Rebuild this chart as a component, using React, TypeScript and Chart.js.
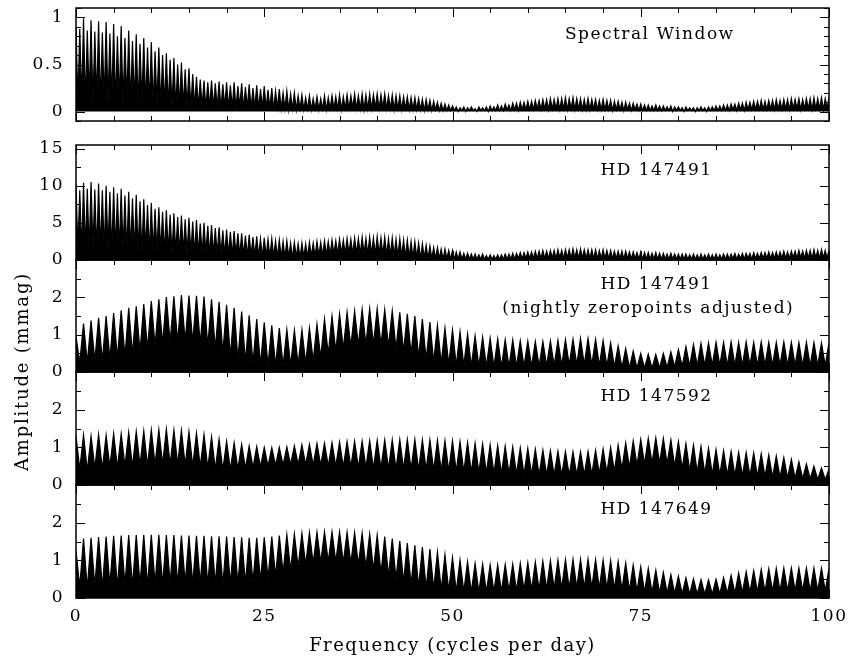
import React, { useEffect, useRef } from "react";
import { Chart, registerables } from "chart.js";

Chart.register(...registerables);

const FONT_FAMILY = "'DejaVu Serif', 'Liberation Serif', serif";

// ---- frequency axis ----
const FREQ_MIN = 0;
const FREQ_MAX = 100;
const FREQ_TICKS = [0, 25, 50, 75, 100];
const FREQ_MINOR = 5;
const X_TITLE = "Frequency (cycles per day)";
const Y_TITLE = "Amplitude (mmag)";

// spacing of successive alias peaks (c/d)
const WINDOW_PEAK_SPACING = 0.5;
const RAW_PEAK_SPACING = 0.5;
const STAR_PEAK_SPACING = 1;

// ---- Spectral window: peak heights (every 0.5 c/d) ----
const windowPeaks = [
  0.90, 0.88, 0.99, 0.86, 0.97, 0.85, 0.96,
  0.84, 0.95, 0.83, 0.93, 0.80,
  0.91, 0.78, 0.86, 0.75, 0.82,
  0.72, 0.78, 0.68, 0.74, 0.64,
  0.68, 0.60, 0.62, 0.55, 0.57,
  0.50, 0.52, 0.45, 0.46, 0.40,
  0.37, 0.34, 0.33, 0.31, 0.33,
  0.30, 0.32, 0.29, 0.31, 0.28,
  0.31, 0.27, 0.30, 0.26, 0.29,
  0.25, 0.28, 0.24, 0.27, 0.23,
  0.25, 0.22, 0.24, 0.20, 0.22,
  0.19, 0.20, 0.17, 0.18, 0.15,
  0.17, 0.14, 0.16, 0.14, 0.17,
  0.15, 0.17, 0.16, 0.18, 0.16,
  0.18, 0.17, 0.19, 0.17, 0.19,
  0.18, 0.19, 0.18, 0.19, 0.18,
  0.19, 0.17, 0.18, 0.17, 0.17,
  0.16, 0.16, 0.15, 0.15, 0.14,
  0.13, 0.13, 0.12, 0.11, 0.10,
  0.09, 0.08, 0.07, 0.06, 0.05,
  0.04, 0.05, 0.04, 0.05, 0.03,
  0.05, 0.04, 0.05, 0.06, 0.05,
  0.07, 0.06, 0.08, 0.07, 0.09,
  0.09, 0.10, 0.10, 0.11, 0.11,
  0.12, 0.12, 0.13, 0.13, 0.14,
  0.13, 0.14, 0.14, 0.15, 0.14,
  0.15, 0.14, 0.14, 0.13, 0.14,
  0.13, 0.13, 0.12, 0.13, 0.12,
  0.12, 0.11, 0.11, 0.10, 0.10,
  0.09, 0.09, 0.08, 0.08, 0.07,
  0.07, 0.06, 0.07, 0.06, 0.06,
  0.05, 0.06, 0.05, 0.05, 0.04,
  0.05, 0.04, 0.04, 0.04, 0.05,
  0.04, 0.05, 0.05, 0.06, 0.06,
  0.07, 0.07, 0.08, 0.08, 0.09,
  0.09, 0.10, 0.10, 0.11, 0.11,
  0.12, 0.11, 0.12, 0.12, 0.13,
  0.12, 0.13, 0.13, 0.14, 0.13,
  0.14, 0.13, 0.14, 0.14, 0.15,
  0.14, 0.15, 0.14, 0.15,
];
const windowValleys = [
  0.10, 0.12, 0.08, 0.13, 0.09, 0.12, 0.08, 0.11, 0.09, 0.12, 0.08, 0.10, 0.07, 0.11, 0.08, 0.09, 0.06, 0.10, 0.07, 0.08,
  0.06, 0.08, 0.05, 0.07, 0.05, 0.06, 0.04, 0.06, 0.05, 0.05, 0.04, 0.05, 0.04, 0.05, 0.03, 0.05, 0.04, 0.04, 0.03, 0.05,
  0.04, 0.04, 0.03, 0.05, 0.03, 0.04, 0.03, 0.04, 0.03, 0.04, 0.03, 0.03, 0.02, 0.04, 0.03, 0.03, 0.02, 0.03, 0.02, 0.03,
  0.02, 0.03, 0.02, 0.03, 0.02, 0.03, 0.02, 0.03, 0.03, 0.03, 0.02, 0.03, 0.03, 0.04, 0.03, 0.03, 0.02, 0.03, 0.03, 0.04,
  0.03, 0.04, 0.03, 0.03, 0.02, 0.03, 0.02, 0.03, 0.02, 0.02, 0.02, 0.02, 0.01, 0.02, 0.01, 0.02, 0.01, 0.01, 0.01, 0.01,
  0.01, 0.00, 0.01, 0.00, 0.01, 0.01, 0.00, 0.01, 0.01, 0.00, 0.01, 0.01, 0.01, 0.01, 0.02, 0.01, 0.02, 0.01, 0.02, 0.02,
  0.02, 0.02, 0.03, 0.02, 0.03, 0.02, 0.03, 0.03, 0.02, 0.03, 0.02, 0.03, 0.02, 0.03, 0.02, 0.02, 0.02, 0.03, 0.02, 0.02,
  0.02, 0.02, 0.01, 0.02, 0.02, 0.01, 0.02, 0.01, 0.02, 0.01, 0.01, 0.01, 0.01, 0.01, 0.01, 0.01, 0.01, 0.01, 0.00, 0.01,
  0.01, 0.00, 0.01, 0.01, 0.00, 0.01, 0.01, 0.00, 0.01, 0.01, 0.01, 0.01, 0.01, 0.01, 0.02, 0.01, 0.02, 0.01, 0.02, 0.02,
  0.02, 0.02, 0.02, 0.02, 0.03, 0.02, 0.03, 0.02, 0.03, 0.02, 0.03, 0.03, 0.02, 0.03, 0.03, 0.02, 0.03, 0.03, 0.02, 0.03,
];

// ---- HD 147491 (raw): peak heights every 0.5 c/d ----
const hd147491Peaks = [
  10.2, 9.4, 10.4, 9.6, 10.5, 9.5, 10.3,
  9.4, 10.0, 9.2, 9.8, 9.0,
  9.6, 8.7, 9.2, 8.3, 8.8,
  7.9, 8.2, 7.4, 7.7, 6.9,
  7.1, 6.5, 6.7, 6.1, 6.3,
  5.8, 6.0, 5.5, 5.7, 5.2,
  5.4, 4.9, 5.0, 4.6, 4.7,
  4.3, 4.4, 4.0, 4.1, 3.8,
  3.9, 3.6, 3.6, 3.3, 3.4,
  3.1, 3.2, 2.9, 3.0, 2.8,
  2.9, 2.6, 2.7, 2.5, 2.6,
  2.3, 2.4, 2.2, 2.3, 2.2,
  2.4, 2.3, 2.5, 2.4, 2.6,
  2.5, 2.7, 2.6, 2.8, 2.7,
  2.9, 2.8, 3.0, 2.9, 3.1,
  2.9, 3.1, 3.0, 3.2, 3.0,
  3.1, 2.9, 3.0, 2.8, 2.9,
  2.7, 2.7, 2.5, 2.5, 2.3,
  2.2, 2.0, 1.9, 1.7, 1.7,
  1.5, 1.5, 1.3, 1.3, 1.1,
  1.1, 0.9, 0.9, 0.8, 0.8,
  0.7, 0.8, 0.6, 0.7, 0.6,
  0.7, 0.7, 0.8, 0.8, 0.9,
  0.9, 1.0, 1.0, 1.1, 1.1,
  1.2, 1.2, 1.3, 1.2, 1.3,
  1.3, 1.4, 1.3, 1.4, 1.4,
  1.5, 1.4, 1.5, 1.4, 1.4,
  1.4, 1.4, 1.3, 1.4, 1.3,
  1.3, 1.2, 1.2, 1.2, 1.2,
  1.1, 1.1, 1.0, 1.1, 1.0,
  1.0, 0.9, 1.0, 0.9, 0.9,
  0.8, 0.9, 0.8, 0.8, 0.8,
  0.8, 0.7, 0.8, 0.7, 0.8,
  0.7, 0.8, 0.7, 0.8, 0.7,
  0.8, 0.8, 0.8, 0.9, 0.8,
  0.9, 0.9, 0.9, 1.0, 0.9,
  1.0, 1.0, 1.1, 1.0, 1.1,
  1.1, 1.2, 1.1, 1.2, 1.2,
  1.3, 1.2, 1.3, 1.3, 1.4,
  1.3, 1.4, 1.3, 1.4,
];
const hd147491Valleys = [
  1.4, 1.1, 1.5, 1.2, 1.6, 1.0, 1.4, 1.2, 1.5, 1.1, 1.3, 1.2, 1.4, 1.0, 1.3, 1.1, 1.2, 1.0, 1.3, 0.9,
  1.1, 1.0, 1.2, 0.9, 1.1, 0.8, 1.0, 0.9, 1.0, 0.8, 0.9, 0.8, 0.9, 0.7, 0.9, 0.7, 0.8, 0.7, 0.8, 0.6,
  0.7, 0.6, 0.7, 0.6, 0.6, 0.5, 0.6, 0.5, 0.5, 0.4, 0.5, 0.4, 0.5, 0.4, 0.4, 0.3, 0.4, 0.3, 0.4, 0.3,
  0.4, 0.4, 0.5, 0.5, 0.6, 0.6, 0.7, 0.7, 0.8, 0.8, 0.9, 0.8, 0.9, 0.8, 0.9, 0.8, 0.9, 0.8, 0.8, 0.7,
  0.8, 0.7, 0.7, 0.6, 0.6, 0.5, 0.5, 0.4, 0.4, 0.3, 0.3, 0.2, 0.3, 0.2, 0.2, 0.2, 0.2, 0.1, 0.2, 0.1,
  0.1, 0.1, 0.1, 0.1, 0.1, 0.1, 0.1, 0.1, 0.1, 0.1, 0.1, 0.1, 0.1, 0.1, 0.1, 0.1, 0.1, 0.2, 0.1, 0.2,
  0.2, 0.2, 0.2, 0.2, 0.2, 0.2, 0.3, 0.2, 0.3, 0.2, 0.3, 0.2, 0.3, 0.2, 0.3, 0.2, 0.2, 0.2, 0.2, 0.2,
  0.2, 0.2, 0.2, 0.2, 0.2, 0.1, 0.2, 0.1, 0.2, 0.1, 0.1, 0.1, 0.1, 0.1, 0.1, 0.1, 0.1, 0.1, 0.1, 0.1,
  0.1, 0.1, 0.1, 0.1, 0.1, 0.1, 0.1, 0.1, 0.1, 0.1, 0.1, 0.1, 0.1, 0.1, 0.2, 0.1, 0.2, 0.1, 0.2, 0.1,
  0.2, 0.2, 0.2, 0.2, 0.2, 0.2, 0.2, 0.2, 0.2, 0.2, 0.3, 0.2, 0.3, 0.2, 0.3, 0.2, 0.3, 0.2, 0.3, 0.2,
];

// ---- HD 147491 (nightly zeropoints adjusted): peak heights every 1 c/d ----
const hd147491AdjPeaks = [
  0.95, 1.30, 1.38, 1.45, 1.50, 1.58, 1.65, 1.72, 1.76, 1.82,
  1.90, 1.95, 2.01, 2.03, 2.06, 2.05, 2.04, 2.02, 1.95, 1.88,
  1.80, 1.72, 1.62, 1.52, 1.42, 1.33, 1.25, 1.18, 1.14, 1.12,
  1.13, 1.18, 1.28, 1.42, 1.50, 1.56, 1.60, 1.64, 1.68, 1.70,
  1.70, 1.68, 1.64, 1.60, 1.56, 1.50, 1.42, 1.34, 1.25, 1.18,
  1.13, 1.08, 1.02, 0.97, 0.94, 0.91, 0.89, 0.87, 0.86, 0.84,
  0.83, 0.82, 0.82, 0.83, 0.85, 0.87, 0.88, 0.90, 0.90, 0.88,
  0.84, 0.78, 0.70, 0.63, 0.56, 0.50, 0.48, 0.47, 0.50, 0.54,
  0.60, 0.68, 0.74, 0.77, 0.78, 0.80, 0.80, 0.81, 0.80, 0.81,
  0.80, 0.81, 0.80, 0.80, 0.81, 0.80, 0.79, 0.80, 0.79, 0.78,
  0.78,
];
const hd147491AdjValleys = [
  0.25, 0.25, 0.30, 0.30, 0.35, 0.38, 0.42, 0.48, 0.55, 0.62,
  0.70, 0.76, 0.80, 0.82, 0.82, 0.80, 0.76, 0.70, 0.62, 0.52,
  0.42, 0.34, 0.28, 0.24, 0.20, 0.18, 0.17, 0.17, 0.18, 0.20,
  0.24, 0.30, 0.38, 0.48, 0.56, 0.62, 0.68, 0.72, 0.74, 0.74,
  0.72, 0.68, 0.62, 0.55, 0.48, 0.40, 0.33, 0.27, 0.23, 0.20,
  0.18, 0.17, 0.16, 0.15, 0.15, 0.14, 0.14, 0.14, 0.15, 0.15,
  0.16, 0.16, 0.17, 0.18, 0.18, 0.19, 0.20, 0.20, 0.19, 0.18,
  0.16, 0.14, 0.12, 0.11, 0.10, 0.10, 0.10, 0.11, 0.12, 0.14,
  0.15, 0.16, 0.17, 0.17, 0.18, 0.18, 0.18, 0.18, 0.18, 0.18,
  0.18, 0.18, 0.18, 0.18, 0.18, 0.18, 0.17, 0.17, 0.17, 0.17,
];

// ---- HD 147592 ----
const hd147592Peaks = [
  1.30, 1.33, 1.30, 1.34, 1.32, 1.37, 1.36, 1.40, 1.42, 1.44,
  1.46, 1.47, 1.48, 1.46, 1.45, 1.42, 1.38, 1.34, 1.28, 1.22,
  1.16, 1.12, 1.08, 1.04, 1.02, 1.00, 0.99, 1.00, 1.01, 1.04,
  1.07, 1.08, 1.10, 1.11, 1.12, 1.14, 1.15, 1.16, 1.17, 1.18,
  1.19, 1.20, 1.20, 1.21, 1.21, 1.21, 1.20, 1.20, 1.19, 1.18,
  1.17, 1.15, 1.13, 1.11, 1.09, 1.07, 1.05, 1.03, 1.01, 0.99,
  0.97, 0.95, 0.93, 0.91, 0.90, 0.89, 0.88, 0.88, 0.89, 0.92,
  0.96, 1.00, 1.06, 1.12, 1.17, 1.21, 1.24, 1.25, 1.24, 1.20,
  1.15, 1.10, 1.06, 1.02, 0.98, 0.94, 0.91, 0.89, 0.87, 0.86,
  0.85, 0.83, 0.80, 0.77, 0.73, 0.68, 0.62, 0.56, 0.50, 0.45,
  0.42,
];
const hd147592Valleys = [
  0.42, 0.38, 0.45, 0.42, 0.48, 0.45, 0.50, 0.48, 0.52, 0.50,
  0.54, 0.55, 0.54, 0.55, 0.52, 0.50, 0.48, 0.45, 0.42, 0.40,
  0.40, 0.42, 0.44, 0.46, 0.48, 0.50, 0.52, 0.53, 0.54, 0.54,
  0.54, 0.53, 0.52, 0.50, 0.50, 0.48, 0.48, 0.46, 0.46, 0.44,
  0.44, 0.43, 0.42, 0.42, 0.41, 0.40, 0.40, 0.39, 0.38, 0.37,
  0.36, 0.35, 0.34, 0.33, 0.32, 0.31, 0.30, 0.30, 0.29, 0.28,
  0.28, 0.27, 0.27, 0.26, 0.26, 0.26, 0.26, 0.27, 0.28, 0.30,
  0.33, 0.37, 0.42, 0.47, 0.52, 0.56, 0.58, 0.58, 0.56, 0.50,
  0.44, 0.38, 0.34, 0.31, 0.29, 0.27, 0.26, 0.25, 0.24, 0.24,
  0.23, 0.22, 0.21, 0.20, 0.19, 0.18, 0.17, 0.16, 0.15, 0.14,
];

// ---- HD 147649 ----
const hd147649Peaks = [
  1.25, 1.58, 1.60, 1.62, 1.63, 1.65, 1.66, 1.67, 1.67, 1.68,
  1.68, 1.68, 1.67, 1.67, 1.66, 1.66, 1.65, 1.65, 1.64, 1.64,
  1.63, 1.62, 1.61, 1.60, 1.60, 1.61, 1.63, 1.66, 1.68, 1.70,
  1.72, 1.74, 1.75, 1.76, 1.76, 1.76, 1.75, 1.74, 1.72, 1.70,
  1.67, 1.63, 1.58, 1.52, 1.46, 1.40, 1.35, 1.30, 1.22, 1.15,
  1.08, 1.01, 0.96, 0.92, 0.90, 0.88, 0.88, 0.89, 0.90, 0.92,
  0.94, 0.96, 0.98, 1.00, 1.01, 1.02, 1.03, 1.03, 1.03, 1.02,
  1.01, 1.00, 0.97, 0.93, 0.88, 0.83, 0.79, 0.74, 0.68, 0.62,
  0.58, 0.54, 0.51, 0.49, 0.48, 0.50, 0.54, 0.60, 0.66, 0.70,
  0.73, 0.76, 0.78, 0.79, 0.80, 0.80, 0.80, 0.80, 0.80, 0.79,
  0.78,
];
const hd147649Valleys = [
  0.30, 0.25, 0.32, 0.28, 0.34, 0.30, 0.35, 0.32, 0.36, 0.34,
  0.38, 0.36, 0.40, 0.38, 0.40, 0.38, 0.40, 0.36, 0.38, 0.35,
  0.38, 0.38, 0.40, 0.42, 0.46, 0.52, 0.58, 0.66, 0.74, 0.82,
  0.88, 0.92, 0.95, 0.97, 0.97, 0.95, 0.92, 0.88, 0.82, 0.75,
  0.66, 0.58, 0.50, 0.42, 0.35, 0.30, 0.26, 0.24, 0.22, 0.20,
  0.18, 0.17, 0.16, 0.16, 0.16, 0.17, 0.18, 0.19, 0.20, 0.21,
  0.22, 0.23, 0.24, 0.25, 0.26, 0.26, 0.27, 0.27, 0.27, 0.26,
  0.25, 0.24, 0.22, 0.20, 0.18, 0.16, 0.15, 0.14, 0.13, 0.12,
  0.11, 0.10, 0.10, 0.10, 0.10, 0.11, 0.12, 0.13, 0.14, 0.15,
  0.16, 0.17, 0.18, 0.18, 0.19, 0.19, 0.19, 0.19, 0.19, 0.19,
];

// ---- amplitude tick labels ----
const WINDOW_TICKS = [0, 0.5, 1];
const RAW_TICKS = [0, 5, 10, 15];
const STAR_TICKS = [0, 1, 2];

// ---- panel texts ----
const WINDOW_LABELS = [{ text: "Spectral Window", f: 76.2, a: 0.82 }];
const RAW_LABELS = [{ text: "HD 147491", f: 77.1, a: 12.1 }];
const ADJ_LABELS = [
  { text: "HD 147491", f: 77.1, a: 2.35 },
  { text: "(nightly zeropoints adjusted)", f: 76.0, a: 1.7 },
];
const HD147592_LABELS = [{ text: "HD 147592", f: 77.1, a: 2.34 }];
const HD147649_LABELS = [{ text: "HD 147649", f: 77.1, a: 2.34 }];

type Panel = {
  id: string;
  gap?: boolean;
  heightPx: number;
  peaks?: number[];
  valleys?: number[];
  spacing?: number;
  min?: number;
  max?: number;
  ticks?: number[];
  minor?: number;
  major?: number;
  labels?: { text: string; f: number; a: number }[];
};

const PANELS: Panel[] = [
  { id: "yWin", heightPx: 113, peaks: windowPeaks, valleys: windowValleys, spacing: WINDOW_PEAK_SPACING, min: -0.1, max: 1.1, ticks: WINDOW_TICKS, minor: 0.1, major: 0.5, labels: WINDOW_LABELS },
  { id: "yGap", gap: true, heightPx: 24 },
  { id: "yRaw", heightPx: 115, peaks: hd147491Peaks, valleys: hd147491Valleys, spacing: RAW_PEAK_SPACING, min: 0, max: 15.5, ticks: RAW_TICKS, minor: 2.5, major: 5, labels: RAW_LABELS },
  { id: "yAdj", heightPx: 112, peaks: hd147491AdjPeaks, valleys: hd147491AdjValleys, spacing: STAR_PEAK_SPACING, min: 0, max: 3, ticks: STAR_TICKS, minor: 0.5, major: 1, labels: ADJ_LABELS },
  { id: "y592", heightPx: 113, peaks: hd147592Peaks, valleys: hd147592Valleys, spacing: STAR_PEAK_SPACING, min: 0, max: 3, ticks: STAR_TICKS, minor: 0.5, major: 1, labels: HD147592_LABELS },
  { id: "y649", heightPx: 113, peaks: hd147649Peaks, valleys: hd147649Valleys, spacing: STAR_PEAK_SPACING, min: 0, max: 3, ticks: STAR_TICKS, minor: 0.5, major: 1, labels: HD147649_LABELS },
];

function aliasSeries(peaks: number[], valleys: number[], spacing: number) {
  const pts: { x: number; y: number }[] = [];
  for (let k = 0; k < peaks.length; k++) {
    pts.push({ x: k * spacing, y: peaks[k] });
    if (k < valleys.length) pts.push({ x: (k + 0.5) * spacing, y: valleys[k] });
  }
  return pts;
}

const AXIS_WIDTH = 76;

const framePlugin = {
  id: "pgframes",
  beforeDraw(chart: any) {
    chart.ctx.letterSpacing = "1.5px";
  },
  afterDraw(chart: any) {
    const { ctx, chartArea: area } = chart;
    const xs = chart.scales.x;
    ctx.save();
    ctx.strokeStyle = "#000";
    ctx.fillStyle = "#000";
    for (const p of PANELS) {
      if (p.gap) continue;
      const ys = chart.scales[p.id];
      const top = ys.top;
      const bottom = ys.bottom;
      ctx.lineWidth = 1.5;
      ctx.strokeRect(area.left, top, area.right - area.left, bottom - top);
      ctx.lineWidth = 1;
      ctx.beginPath();
      for (let v = FREQ_MIN; v <= FREQ_MAX; v += FREQ_MINOR) {
        const px = Math.round(xs.getPixelForValue(v)) + 0.5;
        const len = FREQ_TICKS.includes(v) ? 9 : 5;
        ctx.moveTo(px, top);
        ctx.lineTo(px, top + len);
        ctx.moveTo(px, bottom);
        ctx.lineTo(px, bottom - len);
      }
      const i0 = Math.ceil((p.min as number) / (p.minor as number) - 1e-9);
      const i1 = Math.floor((p.max as number) / (p.minor as number) + 1e-9);
      for (let i = i0; i <= i1; i++) {
        const v = i * (p.minor as number);
        const r = v / (p.major as number);
        const len = Math.abs(r - Math.round(r)) < 1e-6 ? 9 : 5;
        const py = Math.round(ys.getPixelForValue(v)) + 0.5;
        ctx.moveTo(area.left, py);
        ctx.lineTo(area.left + len, py);
        ctx.moveTo(area.right, py);
        ctx.lineTo(area.right - len, py);
      }
      ctx.stroke();
      ctx.font = `17px ${FONT_FAMILY}`;
      ctx.letterSpacing = "1.5px";
      ctx.textAlign = "center";
      ctx.textBaseline = "middle";
      for (const l of p.labels || []) {
        ctx.fillText(l.text, xs.getPixelForValue(l.f), ys.getPixelForValue(l.a));
      }
    }
    const top = chart.scales.yRaw.top;
    const bottom = chart.scales.y649.bottom;
    ctx.translate(23, (top + bottom) / 2);
    ctx.rotate(-Math.PI / 2);
    ctx.font = `18px ${FONT_FAMILY}`;
    ctx.letterSpacing = "1.8px";
    ctx.textAlign = "center";
    ctx.textBaseline = "middle";
    ctx.fillText(Y_TITLE, 0, 0);
    ctx.restore();
  },
};

export default function App() {
  const canvasRef = useRef<HTMLCanvasElement | null>(null);

  useEffect(() => {
    const canvas = canvasRef.current;
    if (!canvas) return;
    const font = { family: FONT_FAMILY, size: 17 };

    const scales: any = {
      x: {
        type: "linear",
        position: "bottom",
        min: FREQ_MIN,
        max: FREQ_MAX,
        grid: { display: false, drawTicks: false },
        border: { display: false },
        ticks: { color: "#000", padding: 8, font, autoSkip: false, maxRotation: 0, callback: (v: any) => String(v) },
        title: { display: true, text: X_TITLE, color: "#000", font: { family: FONT_FAMILY, size: 18 }, padding: { top: 0, bottom: 9 } },
        afterBuildTicks: (s: any) => {
          s.ticks = FREQ_TICKS.map((v) => ({ value: v }));
        },
        afterFit: (s: any) => {
          s.height = 68;
          s.paddingLeft = 0;
          s.paddingRight = 0;
        },
      },
    };

    PANELS.forEach((p, i) => {
      scales[p.id] = {
        type: "linear",
        position: "left",
        stack: "panels",
        stackWeight: p.heightPx,
        weight: 100 - i * 10,
        min: p.gap ? 0 : p.min,
        max: p.gap ? 1 : p.max,
        grid: { display: false, drawTicks: false },
        border: { display: false },
        ticks: p.gap
          ? { display: false }
          : { color: "#000", padding: 12, font, autoSkip: false, callback: (v: any) => String(v) },
        afterBuildTicks: (s: any) => {
          if (!p.gap) s.ticks = (p.ticks as number[]).map((v) => ({ value: v }));
        },
        afterFit: (s: any) => {
          s.width = AXIS_WIDTH;
          s.paddingTop = 0;
          s.paddingBottom = 0;
        },
      };
    });

    const datasets = PANELS.filter((p) => !p.gap).map((p) => ({
      data: aliasSeries(p.peaks as number[], p.valleys as number[], p.spacing as number),
      xAxisID: "x",
      yAxisID: p.id,
      borderColor: "#000",
      backgroundColor: "#000",
      borderWidth: 1.2,
      pointRadius: 0,
      tension: 0,
      fill: "origin",
    }));

    const chart = new Chart(canvas, {
      type: "line",
      data: { datasets } as any,
      options: {
        responsive: false,
        animation: false,
        devicePixelRatio: 1,
        layout: { padding: { top: 8, left: 0, right: 20, bottom: 0 } },
        plugins: { legend: { display: false }, tooltip: { enabled: false } },
        scales,
      } as any,
      plugins: [framePlugin],
    });
    return () => chart.destroy();
  }, []);

  return (
    <div style={{ position: "absolute", left: 0, top: 0, width: 849, height: 666, background: "#fff" }}>
      <canvas ref={canvasRef} width={849} height={666} style={{ display: "block" }} />
    </div>
  );
}
